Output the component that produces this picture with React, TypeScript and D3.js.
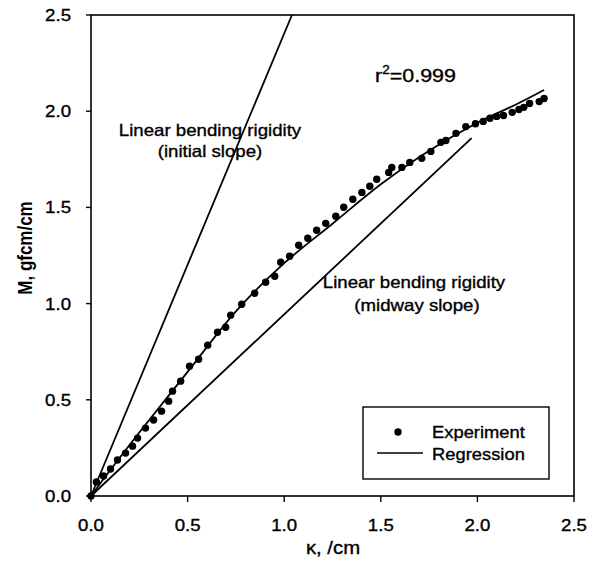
import React from "react";
import * as d3 from "d3";

const expK = [0, 0.028, 0.065, 0.101, 0.137, 0.179, 0.215, 0.241, 0.282, 0.324, 0.365, 0.402, 0.422, 0.464, 0.51, 0.557, 0.604, 0.655, 0.697, 0.723, 0.78, 0.847, 0.904, 0.951, 0.982, 1.028, 1.075, 1.122, 1.168, 1.215, 1.267, 1.308, 1.355, 1.402, 1.443, 1.479, 1.541, 1.557, 1.609, 1.65, 1.712, 1.759, 1.811, 1.837, 1.889, 1.94, 1.99, 2.03, 2.065, 2.1, 2.135, 2.18, 2.215, 2.24, 2.27, 2.32, 2.345];
const expM = [0, 0.073, 0.104, 0.14, 0.187, 0.223, 0.259, 0.301, 0.353, 0.395, 0.441, 0.493, 0.545, 0.597, 0.675, 0.711, 0.784, 0.851, 0.877, 0.94, 0.997, 1.054, 1.111, 1.142, 1.215, 1.246, 1.303, 1.34, 1.381, 1.417, 1.454, 1.501, 1.542, 1.578, 1.61, 1.646, 1.682, 1.708, 1.708, 1.734, 1.755, 1.791, 1.838, 1.848, 1.885, 1.92, 1.935, 1.947, 1.963, 1.973, 1.978, 1.994, 2.009, 2.02, 2.04, 2.05, 2.066];

const regK = [0, 0.1, 0.25, 0.5, 0.75, 1.0, 1.25, 1.5, 1.75, 2.0, 2.2, 2.345];
const regM = [0, 0.135, 0.33, 0.645, 0.96, 1.21, 1.415, 1.62, 1.795, 1.94, 2.035, 2.11];

const initK = [0, 1.04];
const initM = [0, 2.5];
const midK = [0, 1.97];
const midM = [0, 1.86];

const xTicks = [0, 0.5, 1.0, 1.5, 2.0, 2.5];
const yTicks = [0, 0.5, 1.0, 1.5, 2.0, 2.5];

const W = 590, H = 565;
const L = 91, R = 574, T = 15, B = 496;
const FONT = "'Liberation Sans', Arial, sans-serif";
const SX = 1.13;

function T2({ x, y, size, anchor = "start", children, sx = SX, weight = "normal" }: any) {
  return (
    <text transform={`translate(${x},${y}) scale(${sx},1)`} textAnchor={anchor} fontSize={size} fontWeight={weight} fill="#000" stroke="#000" strokeWidth={0.35}>
      {children}
    </text>
  );
}

export default function App() {
  const x = d3.scaleLinear().domain([0, 2.5]).range([L, R]);
  const y = d3.scaleLinear().domain([0, 2.5]).range([B, T]);
  const line = d3.line<[number, number]>().x(d => x(d[0])).y(d => y(d[1]));
  const regPath = d3.line<[number, number]>().x(d => x(d[0])).y(d => y(d[1])).curve(d3.curveCatmullRom.alpha(0.5))(regK.map((k, i) => [k, regM[i]]));
  const initPath = line(initK.map((k, i) => [k, initM[i]]));
  const midPath = line(midK.map((k, i) => [k, midM[i]]));

  return (
    <svg width={W} height={H} style={{ position: "absolute", left: 0, top: 0, background: "#fff" }} fontFamily={FONT}>
      <rect x={0} y={0} width={W} height={H} fill="#fff" />
      <rect x={L} y={T} width={R - L} height={B - T} fill="none" stroke="#000" strokeWidth={1.6} />
      {yTicks.map(t => (
        <g key={"y" + t}>
          <line x1={L - 5} x2={L} y1={y(t)} y2={y(t)} stroke="#000" strokeWidth={1.4} />
          <T2 x={71} y={y(t) + 6} size={16.5} anchor="end">{t.toFixed(1)}</T2>
        </g>
      ))}
      {xTicks.map(t => (
        <g key={"x" + t}>
          <line x1={x(t)} x2={x(t)} y1={B} y2={B + 6} stroke="#000" strokeWidth={1.4} />
          <T2 x={x(t)} y={531} size={16.5} anchor="middle">{t.toFixed(1)}</T2>
        </g>
      ))}
      <T2 x={333} y={554} size={18} anchor="middle">κ, /cm</T2>
      <text transform={`translate(32,248) rotate(-90) scale(1,1.15)`} textAnchor="middle" fontSize={17} fontWeight="bold" fill="#000">M, gfcm/cm</text>

      <path d={initPath || ""} fill="none" stroke="#000" strokeWidth={1.8} />
      <path d={midPath || ""} fill="none" stroke="#000" strokeWidth={1.8} />
      <path d={regPath || ""} fill="none" stroke="#000" strokeWidth={1.8} />

      {expK.map((k, i) => (
        <circle key={"p" + i} cx={x(k)} cy={y(expM[i])} r={3.7} fill="#000" />
      ))}

      <T2 x={210} y={136} size={16.5} anchor="middle">Linear bending rigidity</T2>
      <T2 x={210} y={157} size={16.5} anchor="middle">(initial slope)</T2>
      <T2 x={414} y={288} size={16.5} anchor="middle">Linear bending rigidity</T2>
      <T2 x={417} y={311} size={16.5} anchor="middle">(midway slope)</T2>
      <T2 x={375} y={82} size={19}>r<tspan dy={-8} fontSize={12}>2</tspan><tspan dy={8}>=0.999</tspan></T2>

      <rect x={363} y={407} width={186} height={72} fill="#fff" stroke="#000" strokeWidth={1.4} />
      <circle cx={398} cy={432} r={3.7} fill="#000" />
      <T2 x={432} y={438} size={17} sx={1.08}>Experiment</T2>
      <line x1={377} x2={423} y1={453} y2={453} stroke="#000" strokeWidth={1.4} />
      <T2 x={432} y={460} size={17} sx={1.08}>Regression</T2>
    </svg>
  );
}
